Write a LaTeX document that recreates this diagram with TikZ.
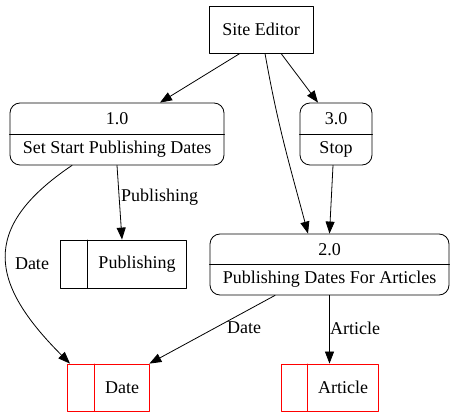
\documentclass[tikz,border=0pt]{standalone}
\usepackage{fontspec}
\setmainfont{Liberation Serif}
\usetikzlibrary{arrows.meta}

\begin{document}
\begin{tikzpicture}[x=1pt,y=-1pt,line cap=round,line join=round,
	>={Triangle[length=12pt,width=9pt]},
	every node/.style={font=\fontsize{18}{20}\selectfont},
	entity/.style={draw,line width=0.8pt,inner sep=0pt},
	procbox/.style={draw,line width=0.8pt,rounded corners=10pt,inner sep=0pt},
	storebox/.style={draw=red,line width=0.8pt,inner sep=0pt},
	flow/.style={->,line width=0.8pt},
	lbl/.style={inner sep=1pt}]
	\useasboundingbox (0,0) rectangle (455,419);
	\node [entity,minimum width=104pt,minimum height=47pt] (editor) at (261,29.5) {Site Editor};
	\node [procbox,minimum width=214pt,minimum height=62pt] (p1) at (117,134) {};
	\draw [line width=0.8pt] (p1.west) -- (p1.east);
	\node (p1id) at ([yshift=15.5pt]p1.center) {1.0};
	\node (p1name) at ([yshift=-15.5pt]p1.center) {Set Start Publishing Dates};
	\node [procbox,minimum width=72pt,minimum height=62pt] (p3) at (336,134) {};
	\draw [line width=0.8pt] (p3.west) -- (p3.east);
	\node (p3id) at ([yshift=15.5pt]p3.center) {3.0};
	\node (p3name) at ([yshift=-15.5pt]p3.center) {Stop};
	\node [procbox,minimum width=239pt,minimum height=61pt] (p2) at (329.5,264.5) {};
	\draw [line width=0.8pt] (p2.west) -- (p2.east);
	\node (p2id) at ([yshift=15pt]p2.center) {2.0};
	\node (p2name) at ([yshift=-15pt]p2.center) {Publishing Dates For Articles};
	\node [entity,minimum width=126pt,minimum height=48pt] (pubstore) at (123,264) {};
	\draw [line width=0.8pt] (87,240) -- (87,288);
	\node (pubname) at (137,264) {Publishing};
	\node [storebox,minimum width=82pt,minimum height=47pt] (datestore) at (108,387.5) {};
	\draw [red,line width=0.8pt] (94,364) -- (94,411);
	\node (datename) at (122,387.5) {Date};
	\node [storebox,minimum width=97pt,minimum height=47pt] (artstore) at (329.5,387.5) {};
	\draw [red,line width=0.8pt] (307,364) -- (307,411);
	\node (artname) at (343,387.5) {Article};
	\draw [flow] ([xshift=-21pt]editor.south) -- ([xshift=43pt]p1.north);
	\draw [flow] ([xshift=20pt]editor.south) -- ([xshift=-18pt]p3.north);
	\draw [flow] ([xshift=4pt]editor.south) to[out=-80,in=105] ([xshift=-21.5pt]p2.north);
	\draw [flow] ([xshift=-3pt]p3.south) -- ([xshift=0pt]p2.north);
	\draw [flow] (p1.south) -- ([xshift=-1pt]pubstore.north);
	\node [lbl,anchor=west] (lpub) at (120,197) {Publishing};
	\draw [flow] ([xshift=-45pt]p1.south) to[out=-146,in=135,looseness=1.45] ([xshift=-38pt]datestore.north);
	\node [lbl] (ldate1) at (32,264) {Date};
	\draw [flow] ([xshift=-54.5pt]p2.south) -- (datestore.north east);
	\node [lbl] (ldate2) at (244,328) {Date};
	\draw [flow] (p2.south) -- (artstore.north);
	\node [lbl,anchor=west] (lart) at (329,328) {Article};
\end{tikzpicture}
\end{document}
